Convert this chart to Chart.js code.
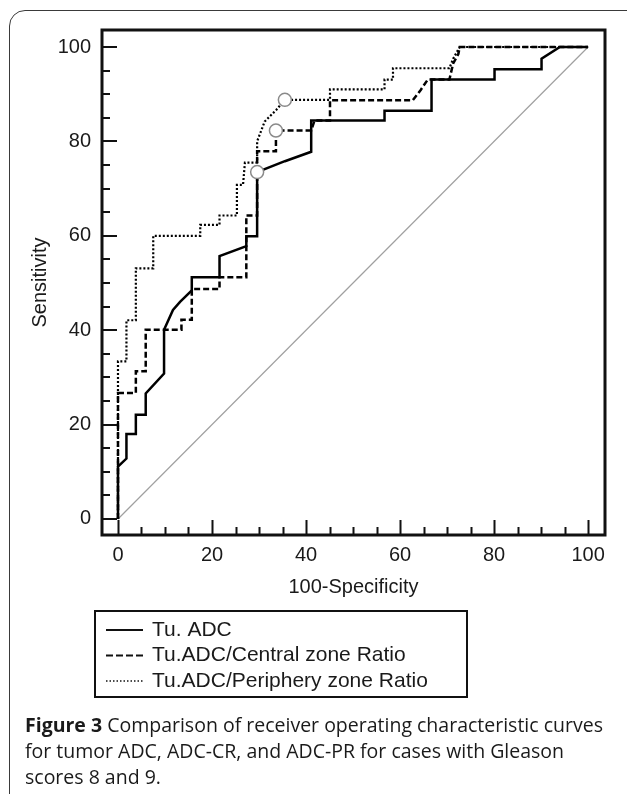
<!DOCTYPE html>
<html>
<head>
<meta charset="utf-8">
<title>ROC curves</title>
<script src="https://cdn.jsdelivr.net/npm/chart.js@4.4.1/dist/chart.umd.min.js"></script>
<style>
  html, body { margin: 0; padding: 0; background: #fff; overflow: hidden; }
  #wrap { position: relative; width: 627px; height: 794px; }
  #frame { position: absolute; left: 9px; top: 10px; width: 660px; height: 830px;
           border: 1.5px solid #3a3a3a; border-radius: 16px; }
  #rocChart { position: absolute; left: 0; top: 0; }
  #caption { position: absolute; left: 25px; top: 712px; color: #1a1a1a; white-space: nowrap;
             font: 19.5px/26px "Open Sans", sans-serif; }
  #caption b { font-weight: 700; }
</style>
</head>
<body>
<div id="wrap">
  <div id="frame"></div>
  <canvas id="rocChart" width="627" height="794"></canvas>
  <div id="caption"><b>Figure 3</b> Comparison of receiver operating characteristic curves<br>for tumor ADC, ADC-CR, and ADC-PR for cases with Gleason<br>scores 8 and 9.</div>
</div>
<script>
const seriesNames = ["Tu. ADC", "Tu.ADC/Central zone Ratio", "Tu.ADC/Periphery zone Ratio"];

// Tu. ADC
const adcX = [0, 0, 1.8, 1.8, 3.8, 3.8, 5.9, 5.9, 9.8, 9.8, 11.7, 13.2, 15.7, 15.7, 21.6, 21.6, 27.3, 27.3, 29.6, 29.6, 35.5, 41.1, 41.1, 56.7, 56.7, 66.7, 66.7, 80.1, 80.1, 90.1, 90.1, 94.0, 100];
const adcY = [0, 11.1, 12.8, 18.0, 18.0, 22.1, 22.1, 26.6, 30.8, 40.1, 44.3, 46.0, 48.4, 51.2, 51.2, 55.7, 57.8, 59.9, 59.9, 73.5, 75.8, 77.8, 84.4, 84.4, 86.5, 86.5, 93.1, 93.1, 95.3, 95.3, 97.5, 100, 100];

// Tu.ADC / central zone ratio
const centralX = [0, 0, 3.8, 3.8, 5.9, 5.9, 13.5, 13.5, 15.7, 15.7, 21.6, 21.6, 27.3, 27.3, 29.6, 29.6, 33.6, 33.6, 41.1, 41.8, 45.1, 45.1, 62.7, 64.4, 65.9, 70.5, 71.3, 72.4, 72.7, 100];
const centralY = [0, 26.7, 26.7, 31.3, 31.3, 40.1, 40.1, 42.2, 42.2, 48.7, 48.7, 51.2, 51.2, 64.3, 64.3, 77.9, 77.9, 82.3, 82.3, 84.4, 84.4, 88.7, 88.7, 90.9, 93.1, 93.1, 96.5, 98.5, 100, 100];

// Tu.ADC / periphery zone ratio
const peripheryX = [0, 0, 1.8, 1.8, 3.8, 3.8, 7.5, 7.5, 17.5, 17.5, 21.6, 21.6, 25.3, 25.3, 26.6, 27.0, 29.6, 29.6, 31.2, 33.7, 35.5, 45.1, 45.1, 56.7, 56.7, 58.5, 58.5, 70.5, 71.3, 72.7, 100];
const peripheryY = [0, 33.4, 33.4, 42.1, 42.1, 53.1, 53.1, 60.0, 60.0, 62.3, 62.3, 64.3, 64.3, 70.8, 70.8, 75.5, 75.5, 80.0, 84.2, 86.7, 88.8, 88.8, 91.0, 91.0, 93.1, 93.1, 95.5, 95.5, 97.5, 100, 100];

// optimal cut-off points (open circles)
const cutoffX = [29.6, 33.6, 35.5];
const cutoffY = [73.5, 82.3, 88.8];

// chance line
const refX = [0, 100];
const refY = [0, 100];

const tickStep = 5;
const labelStep = 20;

const pts = (xs, ys) => xs.map((x, i) => ({ x, y: ys[i] }));

const FONT = "'Liberation Sans', Arial, sans-serif";
const INK = "#1a1a1a";

// box, inward ticks (long every 20, short every 5)
const axisFrame = {
  id: "axisFrame",
  afterDatasetsDraw(chart) {
    const { ctx, chartArea: a, scales: { x, y } } = chart;
    ctx.save();
    ctx.strokeStyle = "#111";
    ctx.lineWidth = 2;
    ctx.beginPath();
    x.ticks.forEach(t => {
      const px = Math.round(x.getPixelForValue(t.value)) + 0.5;
      const len = t.value % labelStep === 0 ? 15 : 8;
      ctx.moveTo(px, a.bottom);
      ctx.lineTo(px, a.bottom - len);
    });
    y.ticks.forEach(t => {
      const py = Math.round(y.getPixelForValue(t.value));
      const len = t.value % labelStep === 0 ? 15 : 8;
      ctx.moveTo(a.left, py);
      ctx.lineTo(a.left + len, py);
    });
    ctx.stroke();
    ctx.lineWidth = 3;
    ctx.strokeRect(a.left, a.top, a.right - a.left, a.bottom - a.top);
    ctx.restore();
  }
};

// boxed legend under the plot
const boxLegend = {
  id: "boxLegend",
  afterDraw(chart, args, o) {
    const { ctx } = chart;
    const items = chart.data.datasets.filter(d => d.inLegend);
    ctx.save();
    ctx.strokeStyle = "#111";
    ctx.lineWidth = 2;
    ctx.strokeRect(o.left, o.top, o.width, o.height);
    ctx.font = "21px " + FONT;
    ctx.textBaseline = "middle";
    ctx.fillStyle = INK;
    items.forEach((d, i) => {
      const yy = o.top + o.firstRow + i * o.rowGap;
      ctx.setLineDash(d.legendDash);
      ctx.lineWidth = d.legendWidth;
      ctx.beginPath();
      ctx.moveTo(o.left + 11, yy);
      ctx.lineTo(o.left + 48, yy);
      ctx.stroke();
      ctx.setLineDash([]);
      ctx.fillText(d.label, o.left + 57, yy);
    });
    ctx.restore();
  }
};

const tickFont = { family: FONT, size: 20 };

new Chart(document.getElementById("rocChart"), {
  type: "scatter",
  data: {
    datasets: [
      {
        label: "cut-off",
        data: pts(cutoffX, cutoffY),
        showLine: false,
        pointRadius: 6.5,
        pointBorderWidth: 1.5,
        pointBorderColor: "#8a8a8a",
        pointBackgroundColor: "#fff",
        inLegend: false
      },
      {
        label: seriesNames[0],
        data: pts(adcX, adcY),
        showLine: true,
        borderColor: "#000",
        borderWidth: 2.5,
        pointRadius: 0,
        inLegend: true, legendDash: [], legendWidth: 2
      },
      {
        label: seriesNames[1],
        data: pts(centralX, centralY),
        showLine: true,
        borderColor: "#000",
        borderWidth: 2.5,
        borderDash: [6, 3],
        pointRadius: 0,
        inLegend: true, legendDash: [7, 3], legendWidth: 2
      },
      {
        label: seriesNames[2],
        data: pts(peripheryX, peripheryY),
        showLine: true,
        borderColor: "#000",
        borderWidth: 2.2,
        borderDash: [2, 2],
        pointRadius: 0,
        inLegend: true, legendDash: [1.5, 2], legendWidth: 1.5
      },
      {
        label: "reference",
        data: pts(refX, refY),
        showLine: true,
        borderColor: "#a0a0a0",
        borderWidth: 1.2,
        pointRadius: 0,
        inLegend: false
      }
    ]
  },
  options: {
    responsive: false,
    animation: false,
    devicePixelRatio: 1,
    layout: { padding: { left: 28, top: 30, right: 22, bottom: 189 } },
    plugins: {
      legend: { display: false },
      tooltip: { enabled: false },
      boxLegend: { left: 95, top: 611, width: 372, height: 86, firstRow: 19, rowGap: 25.5 }
    },
    scales: {
      x: {
        type: "linear",
        min: -3.4,
        max: 103.6,
        grid: { display: false, drawTicks: false },
        border: { display: false },
        ticks: {
          stepSize: tickStep,
          autoSkip: false,
          includeBounds: false,
          minRotation: 0,
          maxRotation: 0,
          padding: 8,
          color: INK,
          font: tickFont,
          callback: v => (v % labelStep === 0 ? v : "")
        },
        title: { display: true, text: "100-Specificity", color: INK, font: tickFont, padding: { top: 0, bottom: 6 } },
        afterFit: s => { s.height = 70; }
      },
      y: {
        type: "linear",
        min: -3.4,
        max: 103.6,
        grid: { display: false, drawTicks: false },
        border: { display: false },
        ticks: {
          stepSize: tickStep,
          autoSkip: false,
          includeBounds: false,
          padding: 11,
          color: INK,
          font: tickFont,
          callback: v => (v % labelStep === 0 ? v : "")
        },
        title: { display: true, text: "Sensitivity", color: INK, font: tickFont, padding: { top: 0, bottom: 0 } },
        afterFit: s => { s.width = 74; }
      }
    }
  },
  plugins: [axisFrame, boxLegend]
});
</script>
</body>
</html>
